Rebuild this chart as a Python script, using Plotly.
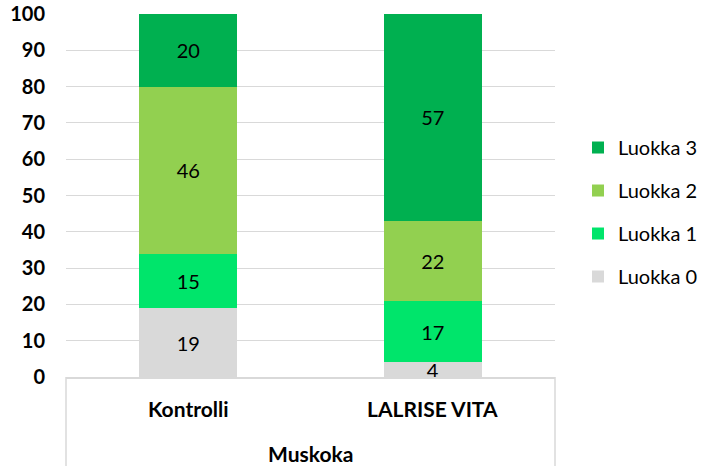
import plotly.graph_objects as go

categories = ["Kontrolli", "LALRISE VITA"]
group_label = "Muskoka"
series_names = ["Luokka 0", "Luokka 1", "Luokka 2", "Luokka 3"]
luokka0 = [19, 4]
luokka1 = [15, 17]
luokka2 = [46, 22]
luokka3 = [20, 57]
colors = ["#D9D9D9", "#00E56B", "#92D050", "#00B050"]
y_ticks = [0, 10, 20, 30, 40, 50, 60, 70, 80, 90, 100]

FONT = "Lato, 'Open Sans', sans-serif"

fig = go.Figure()
series = [luokka0, luokka1, luokka2, luokka3]
for i, (name, vals, col) in enumerate(zip(series_names, series, colors)):
    fig.add_trace(go.Bar(
        x=categories, y=vals, name=name, marker=dict(color=col, line=dict(width=0)),
        text=[str(v) for v in vals], textposition="inside", insidetextanchor="middle",
        textangle=0, textfont=dict(size=20, color="black", family=FONT),
        legendgroup=name, legendrank=len(series) - i, width=0.4,
    ))

fig.update_layout(
    barmode="stack",
    width=715, height=466,
    margin=dict(l=66, r=160, t=14, b=89),
    paper_bgcolor="white", plot_bgcolor="white",
    uniformtext=dict(minsize=20, mode="show"),
    font=dict(family=FONT, color="black"),
    legend=dict(
        xref="container", yref="container",
        x=0.8084, y=0.7253, xanchor="left", yanchor="top",
        traceorder="grouped", tracegroupgap=14,
        font=dict(size=20, color="black", family=FONT),
        itemwidth=30,
    ),
    showlegend=True,
)
fig.update_xaxes(
    showticklabels=False, showline=True, linecolor="#D9D9D9", linewidth=1.5,
    ticks="", showgrid=False, automargin=False,
)
fig.update_yaxes(
    range=[0, 100], tickvals=y_ticks, showgrid=True, gridcolor="#D9D9D9", gridwidth=1.2,
    tickfont=dict(size=20, family=FONT, color="black", weight="bold"),
    zeroline=False, showline=False, ticks="", ticklabelstandoff=20, automargin=False,
    ticklabeloverflow="allow",
)

# Category labels and group label below the axis
for c in categories:
    fig.add_annotation(x=c, y=0, xref="x", yref="paper", yshift=-31, yanchor="middle",
                       text=c, showarrow=False,
                       font=dict(size=21, family=FONT, weight="bold"))
fig.add_annotation(x=0.5, y=0, xref="paper", yref="paper", yshift=-76, yanchor="middle",
                   text=group_label, showarrow=False,
                   font=dict(size=21, family=FONT, weight="bold"))
for xp in [0, 1]:
    fig.add_shape(type="line", xref="paper", yref="paper", x0=xp, x1=xp, y0=0, y1=-0.3,
                  line=dict(color="#D9D9D9", width=1.5))

fig.write_html("out.html", config={"displayModeBar": False},
               post_script="document.body.style.margin='0';")
